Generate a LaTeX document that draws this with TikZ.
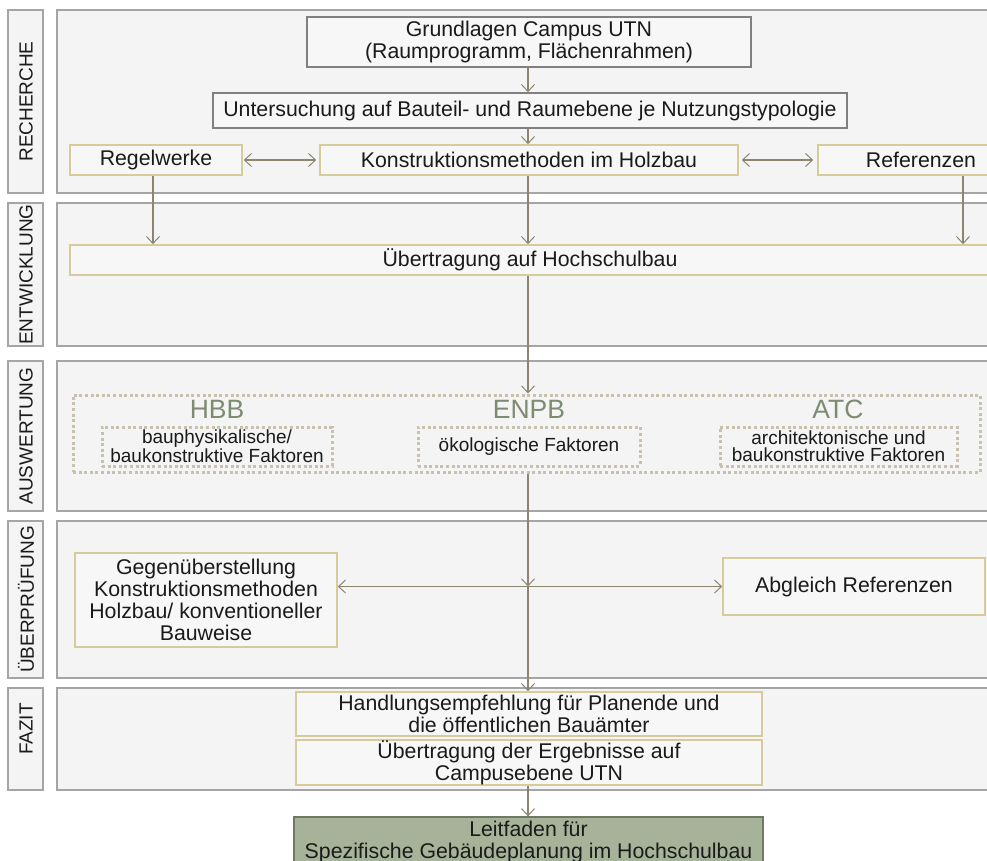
\documentclass[tikz,border=0pt]{standalone}
\usepackage{fontspec}
\setmainfont{Liberation Sans}
\usetikzlibrary{arrows.meta}

\definecolor{panelfill}{HTML}{F4F4F4}
\definecolor{panelline}{HTML}{A5A5A5}
\definecolor{boxfill}{HTML}{F7F7F7}
\definecolor{greyline}{HTML}{808080}
\definecolor{tanline}{HTML}{D6CB9B}
\definecolor{arrowcol}{HTML}{8C8670}
\definecolor{dotcol}{HTML}{C8C1AE}
\definecolor{titlecol}{HTML}{7D8B70}
\definecolor{leitfill}{HTML}{A7B399}
\definecolor{leitline}{HTML}{6E7862}
\definecolor{txt}{HTML}{1A1A1A}

\tikzset{
  panel/.style={draw=panelline, fill=panelfill, line width=1.2pt},
  phaselabel/.style={rotate=90, text=txt, font=\fontsize{19}{21}\selectfont, inner sep=0pt},
  box/.style={line width=1.6pt, fill=boxfill, inner sep=0pt, align=center,
    text=txt, font=\fontsize{21.3}{22}\selectfont},
  greybox/.style={box, draw=greyline},
  tanbox/.style={box, draw=tanline},
  dotbox/.style={draw=dotcol, line width=3pt, dash pattern=on 3pt off 2.6pt,
    inner sep=0pt, fill=none},
  factorbox/.style={dotbox, align=center, text=txt, font=\fontsize{19}{17}\selectfont},
  grouptitle/.style={text=titlecol, font=\fontsize{26.5}{28}\selectfont, inner sep=0pt},
  leitbox/.style={box, draw=leitline, fill=leitfill, line width=1.4pt},
  arr/.style={draw=arrowcol, line width=1.3pt,
    -{Straight Barb[length=7pt,width=13pt,line width=1pt]}},
  darr/.style={draw=arrowcol, line width=1.3pt,
    {Straight Barb[length=7pt,width=13pt,line width=1pt]}-{Straight Barb[length=7pt,width=13pt,line width=1pt]}},
}

\begin{document}
\begin{tikzpicture}[x=1pt,y=-1pt]
\useasboundingbox (0,0) rectangle (987,861);
\clip (0,0) rectangle (987,861);
\fill[white] (0,0) rectangle (987,861);

% phase bands: label strip and working area
\draw[panel] (8,10) rectangle (43,193);
\draw[panel] (57,10) rectangle (1000,193);
\draw[panel] (8,203) rectangle (43,346);
\draw[panel] (57,203) rectangle (1000,346);
\draw[panel] (8,361) rectangle (43,511);
\draw[panel] (57,361) rectangle (1000,511);
\draw[panel] (8,521) rectangle (43,678);
\draw[panel] (57,521) rectangle (1000,678);
\draw[panel] (8,688) rectangle (43,790);
\draw[panel] (57,688) rectangle (1000,790);

\node[phaselabel] (lrech) at (26,101.5) {RECHERCHE};
\node[phaselabel] (lentw) at (26,274.5) {ENTWICKLUNG};
\node[phaselabel] (lausw) at (26,436) {AUSWERTUNG};
\node[phaselabel] (luebp) at (26,599.5) {ÜBERPRÜFUNG};
\node[phaselabel] (lfazit) at (26,729) {FAZIT};

% Recherche
\node[greybox, minimum width=444pt, minimum height=50pt] (grund) at (529,42)
  {Grundlagen Campus UTN\\(Raumprogramm, Flächenrahmen)};
\node[greybox, minimum width=634pt, minimum height=35pt] (unters) at (530,110.5)
  {Untersuchung auf Bauteil- und Raumebene je Nutzungstypologie};
\node[tanbox, minimum width=172pt, minimum height=30pt] (regel) at (156,160) {Regelwerke};
\node[tanbox, minimum width=418pt, minimum height=30pt] (konstr) at (529,160)
  {Konstruktionsmethoden im Holzbau};
\node[tanbox, minimum width=206pt, minimum height=30pt] (refs) at (921,160) {Referenzen};

% Entwicklung
\node[tanbox, minimum width=920pt, minimum height=30pt] (uebert) at (530,260)
  {Übertragung auf Hochschulbau};

% Auswertung
\node[dotbox, minimum width=907pt, minimum height=77pt] (outer) at (526.5,433.5) {};
\node[grouptitle] (thbb) at (217,409) {HBB};
\node[grouptitle] (tenpb) at (529,409) {ENPB};
\node[grouptitle] (tatc) at (838,409) {ATC};
\node[factorbox, minimum width=230pt, minimum height=39pt] (fhbb) at (217,446.5)
  {bauphysikalische/\\baukonstruktive Faktoren};
\node[factorbox, minimum width=222pt, minimum height=39pt] (fenpb) at (529,446.5)
  {ökologische Faktoren};
\node[factorbox, minimum width=237pt, minimum height=39pt] (fatc) at (838.5,446.5)
  {architektonische und\\baukonstruktive Faktoren};

% Ueberpruefung
\node[tanbox, minimum width=262pt, minimum height=94pt] (gegen) at (206,600)
  {Gegenüberstellung\\Konstruktionsmethoden\\Holzbau/ konventioneller\\Bauweise};
\node[tanbox, minimum width=262pt, minimum height=57pt] (abgl) at (854,586.5)
  {Abgleich Referenzen};

% Fazit
\node[tanbox, minimum width=466pt, minimum height=44pt] (hand) at (529,714)
  {Handlungsempfehlung für Planende und\\die öffentlichen Bauämter};
\node[tanbox, minimum width=466pt, minimum height=45pt] (uebE) at (529,762.5)
  {Übertragung der Ergebnisse auf\\Campusebene UTN};

% result
\node[leitbox, minimum width=469pt, minimum height=50pt] (leit) at (528.5,842)
  {Leitfaden für\\Spezifische Gebäudeplanung im Hochschulbau};

% connectors
\coordinate (spine) at (528,0);
\coordinate (regdrop) at (153,0);
\coordinate (refdrop) at (963,0);
\coordinate (cross) at (spine |- abgl.west);

\draw[arr] (grund.south -| spine) -- (unters.north -| spine);
\draw[arr] (unters.south -| spine) -- (konstr.north -| spine);
\draw[darr, shorten <=1pt, shorten >=3pt] (regel.east) -- (konstr.west);
\draw[darr, shorten <=3pt, shorten >=4pt] (konstr.east) -- (refs.west);
\draw[arr] (regel.south -| regdrop) -- (uebert.north -| regdrop);
\draw[arr] (refs.south -| refdrop) -- (uebert.north -| refdrop);
\draw[arr] (konstr.south -| spine) -- (uebert.north -| spine);
\draw[arr] (uebert.south -| spine) -- (outer.north -| spine);
\draw[arr] (outer.south -| spine) -- (cross);
\draw[arr] (cross) -- (hand.north -| spine);
\draw[darr] (gegen.east |- cross) -- (abgl.west);
\draw[arr] (uebE.south -| spine) -- (leit.north -| spine);
\end{tikzpicture}
\end{document}
